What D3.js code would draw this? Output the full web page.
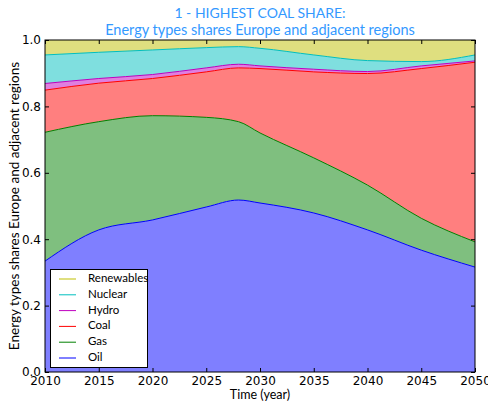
<html>
<head>
<meta charset="utf-8">
<style>
body{margin:0;background:#fff;}
text{font-family:"DejaVu Sans",sans-serif;}
</style>
</head>
<body>
<svg id="graph" width="488" height="404"></svg>
<script src="https://d3js.org/d3.v7.min.js"></script>
<script>
// years
var years = [2010, 2015, 2020, 2025, 2028, 2030, 2035, 2040, 2045, 2050];
// shares of each energy type (stacked bottom to top)
var oil        = [0.334, 0.428, 0.458, 0.497, 0.518, 0.509, 0.479, 0.428, 0.367, 0.316];
var gas        = [0.388, 0.326, 0.314, 0.270, 0.236, 0.211, 0.166, 0.135, 0.096, 0.076];
var coal       = [0.127, 0.116, 0.112, 0.137, 0.162, 0.194, 0.259, 0.336, 0.451, 0.541];
var hydro      = [0.020, 0.014, 0.012, 0.012, 0.011, 0.008, 0.008, 0.006, 0.008, 0.004];
var nuclear    = [0.086, 0.079, 0.074, 0.061, 0.053, 0.053, 0.043, 0.033, 0.013, 0.018];
var renewables = [0.045, 0.037, 0.030, 0.023, 0.020, 0.025, 0.045, 0.062, 0.065, 0.045];

var keys = ['Oil','Gas','Coal','Hydro','Nuclear','Renewables'];
var series = [oil, gas, coal, hydro, nuclear, renewables];
var lineCol = {Oil:'#0000ff',Gas:'#008000',Coal:'#ff0000',Hydro:'#bf00bf',Nuclear:'#00bfbf',Renewables:'#bfbf00'};
var xTicks = [2010,2015,2020,2025,2030,2035,2040,2045,2050];
var yTicks = [0,0.2,0.4,0.6,0.8,1.0];

var table = years.map(function(yr,i){
	var row = {year:yr};
	keys.forEach(function(k,j){row[k] = series[j][i];});
	return row;
});

var svg = d3.select('#graph');
var pL = 45, pR = 475, pT = 40, pB = 372;
var x = d3.scaleLinear().domain([2010,2050]).range([pL,pR]);
var y = d3.scaleLinear().domain([0,1]).range([pB,pT]);

var stacked = d3.stack().keys(keys)(table);
// renewables fill to the top of the plot
var area = d3.area()
	.curve(d3.curveMonotoneX)
	.x(function(d){return x(d.data.year);})
	.y0(function(d){return y(d[0]);})
	.y1(function(d){return y(Math.min(1,d[1]));});
var line = d3.line()
	.curve(d3.curveMonotoneX)
	.x(function(d){return x(d.data.year);})
	.y(function(d){return y(Math.min(1,d[1]));});

svg.append('clipPath').attr('id','clip')
	.append('rect').attr('x',pL).attr('y',pT).attr('width',pR-pL).attr('height',pB-pT);
var plot = svg.append('g').attr('clip-path','url(#clip)');

plot.selectAll('path.area')
	.data(stacked)
	.enter()
	.append('path')
	.attr('class','area')
	.attr('d',area)
	.attr('fill',function(d){return lineCol[d.key];})
	.attr('fill-opacity',0.5)
	.attr('stroke','none');
plot.selectAll('path.line')
	.data(stacked.slice(0,5))
	.enter()
	.append('path')
	.attr('class','line')
	.attr('d',line)
	.attr('fill','none')
	.attr('stroke',function(d){return lineCol[d.key];})
	.attr('stroke-width',1);

// axes with inward ticks on all sides
var fmt = d3.format('.1f');
svg.append('g').attr('transform','translate(0,'+pB+')')
	.call(d3.axisBottom(x).tickValues(xTicks).tickFormat(d3.format('d')).tickSizeInner(-4).tickSizeOuter(0).tickPadding(4));
svg.append('g').attr('transform','translate(0,'+pT+')')
	.call(d3.axisTop(x).tickValues(xTicks).tickFormat('').tickSizeInner(-4).tickSizeOuter(0));
svg.append('g').attr('transform','translate('+pL+',0)')
	.call(d3.axisLeft(y).tickValues(yTicks).tickFormat(fmt).tickSizeInner(-4).tickSizeOuter(0).tickPadding(4));
svg.append('g').attr('transform','translate('+pR+',0)')
	.call(d3.axisRight(y).tickValues(yTicks).tickFormat('').tickSizeInner(-4).tickSizeOuter(0));
svg.selectAll('.domain').remove();
svg.selectAll('.tick text').attr('font-family','"DejaVu Sans",sans-serif').attr('font-size',12).attr('fill','#000');
svg.selectAll('.tick line').attr('stroke','#000');
svg.append('rect').attr('x',pL).attr('y',pT).attr('width',pR-pL).attr('height',pB-pT)
	.attr('fill','none').attr('stroke','#000').attr('stroke-width',1);

// titles
svg.append('text').attr('x',260).attr('y',18).attr('text-anchor','middle')
	.style('font-family','Lato,sans-serif').style('font-size','14px').style('fill','#3399ff')
	.text('1 - HIGHEST COAL SHARE:');
svg.append('text').attr('x',260).attr('y',35).attr('text-anchor','middle')
	.style('font-family','Lato,sans-serif').style('font-size','14.5px').style('fill','#3399ff')
	.text('Energy types shares Europe and adjacent regions');
svg.append('text').attr('x',260).attr('y',399).attr('text-anchor','middle')
	.style('font-family','Lato,sans-serif').style('font-size','12.5px').style('fill','#000')
	.text('Time (year)');
svg.append('text').attr('transform','translate(19,206) rotate(-90)').attr('text-anchor','middle')
	.style('font-family','Lato,sans-serif').style('font-size','13.5px').style('fill','#000')
	.text('Energy types shares Europe and adjacent regions');

// legend
var legKeys = keys.slice().reverse();
var leg = svg.append('g');
leg.append('rect').attr('x',50.5).attr('y',269.5).attr('width',97).attr('height',98)
	.attr('fill','#fff').attr('stroke','#000').attr('stroke-width',1);
var item = leg.selectAll('g.item')
	.data(legKeys)
	.enter()
	.append('g')
	.attr('transform',function(d,i){return 'translate(0,'+(279+i*15.8)+')';});
item.append('line').attr('x1',59).attr('x2',76).attr('y1',0).attr('y2',0)
	.attr('stroke',function(d){return lineCol[d];}).attr('stroke-width',1);
item.append('text').attr('x',88).attr('y',0).attr('dominant-baseline','middle')
	.style('font-family','Lato,sans-serif').style('font-size','11.5px').style('fill','#000')
	.text(function(d){return d;});
</script>
</body>
</html>
